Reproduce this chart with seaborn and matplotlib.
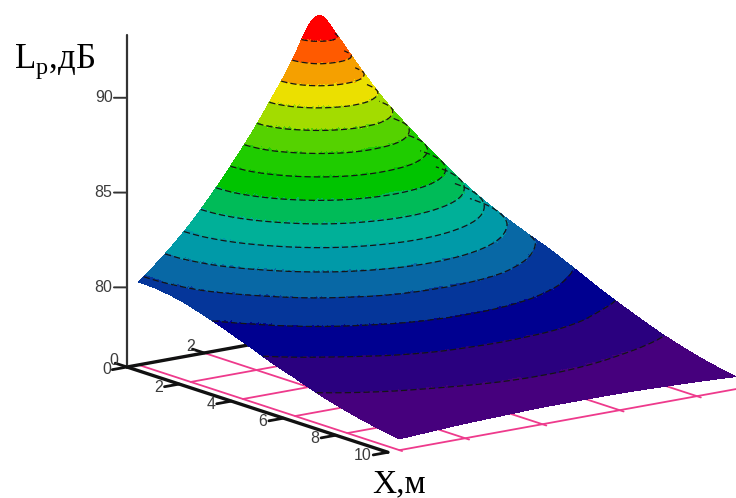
"""Superficie del nivel sonoro Lp(X, Y) con bandas de color."""
import numpy as np
import matplotlib
matplotlib.use("Agg")
import matplotlib.pyplot as plt
import matplotlib.tri as mtri
from matplotlib.colors import BoundaryNorm, ListedColormap
from mpl_toolkits.mplot3d import proj3d
import seaborn as sns

# valores
x_values = [0, 0.5, 1, 2, 3, 4, 5, 6, 7, 8, 10]
y_values = [0.3, 1.7, 2.95, 3.95, 4.45, 4.95, 5.45, 5.95, 6.95, 7.95, 9.0]
lp_x0 = [80.17, 82.90, 86.15, 89.26, 91.10, 92.50, 91.10, 89.26, 86.15, 83.51, 81.14]
lp_x05 = [80.15, 82.82, 86.01, 88.90, 90.46, 91.27, 90.46, 88.90, 86.01, 83.43, 81.09]
lp_x1 = [80.07, 82.60, 85.61, 88.01, 89.12, 89.60, 89.12, 88.01, 85.61, 83.18, 80.96]
lp_x2 = [79.77, 81.81, 84.26, 85.94, 86.47, 86.65, 86.47, 85.94, 84.26, 82.28, 80.43]
lp_x3 = [79.32, 80.79, 82.58, 83.75, 84.08, 84.20, 84.08, 83.75, 82.58, 81.13, 79.90]
lp_x4 = [78.81, 79.91, 80.96, 81.70, 81.92, 82.00, 81.92, 81.70, 80.96, 80.10, 79.27]
lp_x5 = [78.27, 79.12, 79.80, 80.17, 80.26, 80.29, 80.26, 80.17, 79.80, 79.26, 78.63]
lp_x6 = [77.80, 78.38, 78.90, 79.17, 79.24, 79.26, 79.24, 79.17, 78.90, 78.49, 78.06]
lp_x7 = [77.32, 77.81, 78.15, 78.31, 78.35, 78.37, 78.35, 78.31, 78.15, 77.89, 77.53]
lp_x8 = [76.94, 77.28, 77.53, 77.67, 77.71, 77.72, 77.71, 77.67, 77.53, 77.33, 77.09]
lp_x10 = [76.40, 76.55, 76.64, 76.69, 76.70, 76.70, 76.70, 76.69, 76.64, 76.57, 76.46]

contour_levels = [77.4, 78.4, 79.4, 80.4, 81.4, 82.4, 83.4, 84.4, 85.4, 86.4,
                  87.4, 88.4, 89.4, 90.4, 91.4]
band_colors = ["#46007d", "#2a007f", "#000090", "#05369a", "#0868a5", "#009aa8",
               "#00b098", "#00bb58", "#00c400", "#1fcc00", "#55d200", "#a3dc00",
               "#ebe000", "#f5a000", "#ff5a00", "#ff0000"]

x_ticks = [0, 2, 4, 6, 8, 10]
y_ticks = [0, 2]
grid_y = [2, 4, 6, 8]
z_ticks = [80, 85, 90]
z_floor = 75.8
z_top = 92.0
y_floor = (0.3, 9.5)

PINK = "#ee3a8c"
BLACK = "#111111"
W, H = 736, 498

sns.set_theme(style="white")
plt.rcParams["mathtext.fontset"] = "custom"
plt.rcParams["mathtext.rm"] = "Liberation Serif"

fig = plt.figure(figsize=(W / 100, H / 100), dpi=100, facecolor="white")
ax = fig.add_axes([0, 0, 1, 1], projection="3d", proj_type="ortho",
                  computed_zorder=False)
ax.view_init(elev=14.1, azim=-36.7)
ax.set_box_aspect((435, 480, 335))
ax.set_xlim(0, 10)
ax.set_ylim(0, 10)
ax.set_zlim(z_floor, z_floor + 17.2)
ax.set_xticks([])
ax.set_yticks([])
ax.set_zticks([])
ax.set_axis_off()
ax.patch.set_alpha(0)

# superficie refinada con el interpolador de matplotlib
xx, yy = np.meshgrid(x_values, y_values, indexing="ij")
lp = np.array([lp_x0, lp_x05, lp_x1, lp_x2, lp_x3, lp_x4, lp_x5, lp_x6, lp_x7, lp_x8, lp_x10])
tri = mtri.Triangulation(xx.ravel(), yy.ravel())
tri_fine, lp_fine = mtri.UniformTriRefiner(tri).refine_field(lp.ravel(), subdiv=4)

edges = [60] + contour_levels + [100]
cmap = ListedColormap(sns.color_palette(band_colors))
norm = BoundaryNorm(edges, cmap.N)
ax.plot_trisurf(tri_fine, lp_fine, cmap=cmap, norm=norm, linewidth=0,
                antialiased=False, zorder=3)
ax.tricontour(tri_fine, lp_fine, levels=contour_levels, colors="#151515",
              linewidths=0.9, linestyles=[(0, (5, 2.5))], zorder=4)

# piso rosa
for xv in x_ticks[1:]:
    ax.plot([xv, xv], [y_floor[0], y_floor[1]], [z_floor] * 2, color=PINK, lw=1.3, zorder=1)
ax.plot([0, 0], list(y_floor), [z_floor] * 2, color=PINK, lw=1.3, zorder=1)
ax.plot([0, 10.1], [y_floor[0]] * 2, [z_floor] * 2, color=PINK, lw=1.3, zorder=1)
for yv in grid_y:
    ax.plot([0, 10.15], [yv, yv], [z_floor] * 2, color=PINK, lw=1.3, zorder=1)

# ejes dibujados a mano, como en Mathcad
ax.plot([0, 10], [0, 0], [z_floor] * 2, color=BLACK, lw=2.4, zorder=2, solid_capstyle="round")
ax.plot([0, 0], [0, 4], [z_floor] * 2, color=BLACK, lw=2.4, zorder=2)
ax.plot([0, 0], [0, 0], [z_floor, z_top + 1.3], color="#333333", lw=1.6, zorder=2)

tick_labels = []
for xv in x_ticks:
    ax.plot([xv, xv], [0, -0.38], [z_floor] * 2, color=BLACK, lw=2, zorder=2)
    tick_labels.append((xv, -0.42, z_floor, str(xv)))
for yv in y_ticks:
    ax.plot([0, -0.45], [yv, yv], [z_floor] * 2, color=BLACK, lw=2, zorder=2)
    tick_labels.append((-0.35, yv, z_floor + 0.2, str(yv)))
for zv in z_ticks:
    ax.plot([0, -0.18], [0, -0.216], [zv, zv], color="#333333", lw=1.4, zorder=2)
    tick_labels.append((-0.2, -0.24, zv, str(zv)))


def _pixel(xv, yv, zv):
    px, py, _ = proj3d.proj_transform(xv, yv, zv, ax.get_proj())
    return ax.transData.transform((px, py))


def _fit_axes(origin_px, x_end_px):
    """Ajusta la posición del axes para que el eje X caiga en esos píxeles."""
    side = 700.0
    cx, cy = W / 2, H / 2
    for _ in range(2):
        ax.set_position([(cx - side / 2) / W, (cy - side / 2) / H, side / W, side / H])
        fig.canvas.draw()
        p0, p1 = _pixel(0, 0, z_floor), _pixel(10, 0, z_floor)
        side *= np.hypot(*(np.array(x_end_px) - origin_px)) / np.hypot(*(p1 - p0))
    ax.set_position([(cx - side / 2) / W, (cy - side / 2) / H, side / W, side / H])
    fig.canvas.draw()
    shift = np.array(origin_px) - _pixel(0, 0, z_floor)
    cx, cy = cx + shift[0], cy + shift[1]
    ax.set_position([(cx - side / 2) / W, (cy - side / 2) / H, side / W, side / H])
    fig.canvas.draw()


_fit_axes((127, H - 367), (388, H - 452))

# etiquetas en píxeles ya proyectados
for xv, yv, zv, txt in tick_labels:
    px, py = _pixel(xv, yv, zv)
    fig.text(px / W, py / H, txt, color="#3c3c3c", fontsize=11.5, family="Liberation Sans",
             ha="right", va="center")

fig.text(14 / W, 1 - 68 / H, "L$_{\\mathrm{p}}$,дБ", family="Liberation Serif",
         fontsize=25, color="black", va="baseline")
fig.text(372 / W, 1 - 492 / H, "X,м", family="Liberation Serif",
         fontsize=24, color="black", va="baseline")

fig.savefig("out.png", dpi=100, facecolor="white")
